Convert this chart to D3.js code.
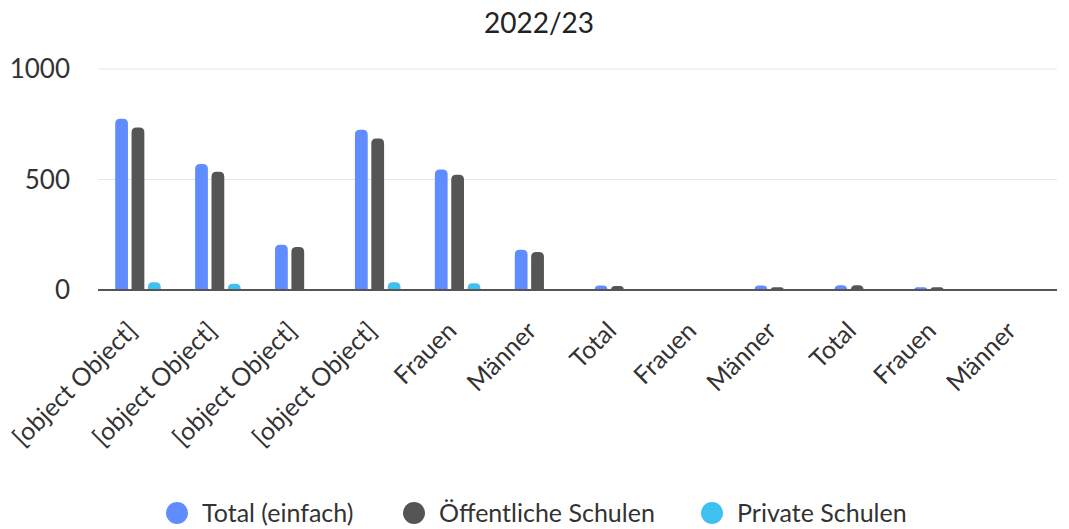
<!DOCTYPE html>
<html>
<head>
<meta charset="utf-8">
<script src="https://cdn.jsdelivr.net/npm/d3@7"></script>
<style>
  html, body { margin: 0; padding: 0; background: #fff; }
  svg { display: block; font-family: "Lato", "Open Sans", sans-serif; }
</style>
</head>
<body>
<svg id="chart" width="1069" height="529"></svg>
<script>
const title = "2022/23";
const categories = ["[object Object]", "[object Object]", "[object Object]", "[object Object]", "Frauen", "Männer", "Total", "Frauen", "Männer", "Total", "Frauen", "Männer"];
const seriesNames = ["Total (einfach)", "Öffentliche Schulen", "Private Schulen"];
const totalEinfach = [775, 570, 205, 725, 545, 182, 20, 0, 20, 22, 12, 3];
const oeffentlich = [735, 535, 195, 685, 522, 172, 18, 0, 12, 22, 12, 3];
const privat = [35, 28, 2, 35, 30, 2, 1, 0, 1, 1, 0, 0];
const yTicks = [0, 500, 1000];
const colors = ["#5f8cff", "#555555", "#3fc1f0"];

const series = [totalEinfach, oeffentlich, privat];
const svg = d3.select("#chart");
const m = { left: 98, right: 1057, top: 69, bottom: 290 };

const x = d3.scaleBand().domain(d3.range(categories.length)).range([m.left, m.right]).paddingInner(0).paddingOuter(0);
const y = d3.scaleLinear().domain([0, 1000]).range([m.bottom, m.top]);
const xs = d3.scaleBand().domain(d3.range(series.length)).range([0, x.bandwidth()]).paddingInner(0.22).paddingOuter(1.05);

svg.append("text").attr("x", 539).attr("y", 33).attr("text-anchor", "middle")
  .attr("font-size", 28).attr("fill", "#222").text(title);

// grid
svg.append("g").selectAll("line").data(yTicks.filter(d => d > 0)).join("line")
  .attr("x1", m.left).attr("x2", m.right)
  .attr("y1", d => y(d)).attr("y2", d => y(d))
  .attr("stroke", "#e6e6e6").attr("stroke-width", 1);

// y labels
svg.append("g").selectAll("text").data(yTicks).join("text")
  .attr("x", 70).attr("y", d => y(d)).attr("dy", "0.35em")
  .attr("text-anchor", "end").attr("font-size", 26).attr("fill", "#333")
  .text(d => d);

function barPath(x0, w, yTop, yBot) {
  const h = yBot - yTop;
  if (h <= 0) return "";
  const r = Math.min(w / 2, 5, h);
  return `M${x0},${yBot} L${x0},${yTop + r} Q${x0},${yTop} ${x0 + r},${yTop} L${x0 + w - r},${yTop} Q${x0 + w},${yTop} ${x0 + w},${yTop + r} L${x0 + w},${yBot} Z`;
}

series.forEach((vals, si) => {
  svg.append("g").selectAll("path").data(vals).join("path")
    .attr("d", (v, i) => barPath(x(i) + xs(si), xs.bandwidth(), y(v), y(0)))
    .attr("fill", colors[si]);
});

// axis line
svg.append("line").attr("x1", m.left).attr("x2", m.right)
  .attr("y1", y(0)).attr("y2", y(0)).attr("stroke", "#555").attr("stroke-width", 2);

// x labels
svg.append("g").selectAll("text").data(categories).join("text")
  .attr("transform", (d, i) => `translate(${x(i) + x.bandwidth() / 2 - 12},${y(0) + 30}) rotate(-45)`)
  .attr("text-anchor", "end").attr("dy", "0.7em")
  .attr("font-size", 25).attr("fill", "#333")
  .text(d => d);

// legend
const legendX = [177, 414, 712];
const lg = svg.append("g");
seriesNames.forEach((n, i) => {
  lg.append("circle").attr("cx", legendX[i]).attr("cy", 513).attr("r", 11).attr("fill", colors[i]);
  lg.append("text").attr("x", legendX[i] + 25).attr("y", 513).attr("dy", "0.35em")
    .attr("font-size", 25).attr("fill", "#333").text(n);
});
</script>
</body>
</html>
